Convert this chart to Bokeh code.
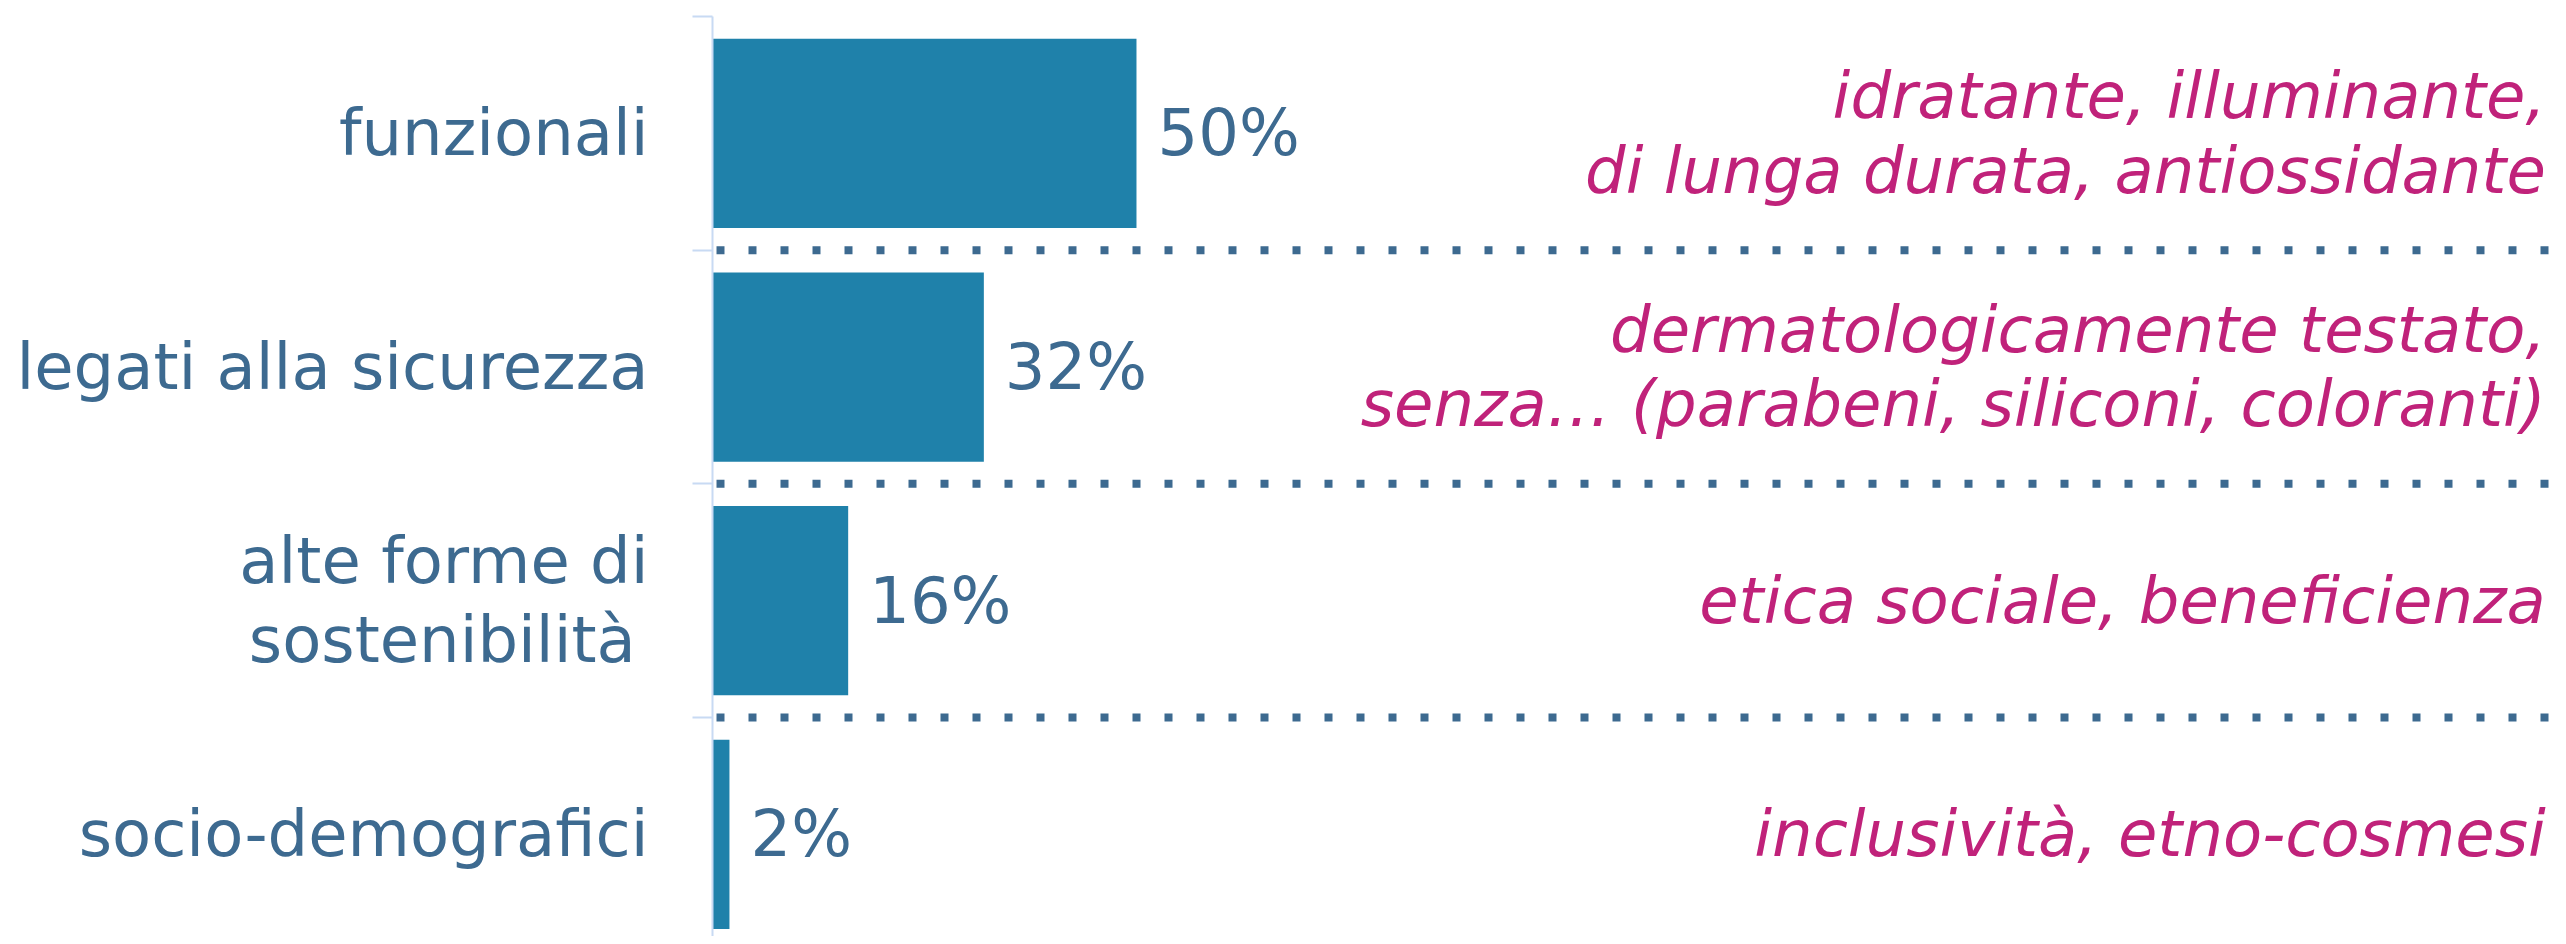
from bokeh.plotting import figure
from bokeh.models import Range1d, FixedTicker, Span
from bokeh.core.properties import value
from bokeh.embed import file_html
from bokeh.resources import INLINE

categories = ["funzionali", "legati alla sicurezza", "alte forme di\nsostenibilità\u2009", "socio-demografici"]
values = [50, 32, 16, 2]
value_labels = ["50%", "32%", "16%", "2%"]
examples = [
    "idratante, illuminante,\ndi lunga durata, antiossidante",
    "dermatologicamente testato,\nsenza… (parabeni, siliconi, coloranti)",
    "etica sociale, beneficienza",
    "inclusività, etno-cosmesi",
]

LABEL_COLOR = "#3d6a90"
BAR_COLOR = "#1f81aa"
EX_COLOR = "#c0227a"
AXIS_COLOR = "#c8daf3"
FONT = "DejaVu Sans"
FS = "64px"

n = len(categories)
centers = [n - i - 0.5 for i in range(n)]
boundaries = list(range(n + 1))
X_MAX = 217.7

p = figure(width=2558, height=936,
           x_range=Range1d(0, X_MAX), y_range=Range1d(0.063, n),
           x_axis_location=None, y_axis_location="left",
           output_backend="svg", toolbar_location=None,
           min_border_left=712, min_border_top=16, min_border_bottom=0, min_border_right=0)
p.outline_line_color = None
p.xgrid.visible = False
p.ygrid.visible = False
p.background_fill_color = "white"
p.border_fill_color = "white"

ax = p.yaxis[0]
ax.ticker = FixedTicker(ticks=centers, minor_ticks=boundaries)
ax.major_label_overrides = {c: lab for c, lab in zip(centers, categories)}
ax.major_tick_line_color = None
ax.major_tick_out = 0
ax.major_tick_in = 0
ax.minor_tick_out = 20
ax.minor_tick_in = 0
ax.minor_tick_line_color = AXIS_COLOR
ax.minor_tick_line_width = 2
ax.axis_line_color = AXIS_COLOR
ax.axis_line_width = 2
ax.major_label_standoff = 44
ax.major_label_text_font = FONT
ax.major_label_text_font_size = FS
ax.major_label_text_color = LABEL_COLOR
ax.major_label_text_line_height = 1.07

for b in boundaries[1:-1]:
    p.add_layout(Span(location=b, dimension="width", line_color=LABEL_COLOR,
                      line_width=8, line_dash="8 24", line_dash_offset=28))

p.hbar(y=centers, left=0, right=values, height=0.81, fill_color=BAR_COLOR, line_color=None)

p.text(x=values, y=centers, text=value_labels, x_offset=21,
       text_align="left", text_baseline="middle",
       text_font=value(FONT), text_font_size=FS, text_color=LABEL_COLOR)

p.text(x=[X_MAX - 1.5] * n, y=centers, text=examples,
       text_align="right", text_baseline="middle", text_line_height=1.01,
       text_font=value(FONT), text_font_size=FS, text_font_style="italic",
       text_color=EX_COLOR)

open("out.html", "w").write(file_html(p, INLINE))
